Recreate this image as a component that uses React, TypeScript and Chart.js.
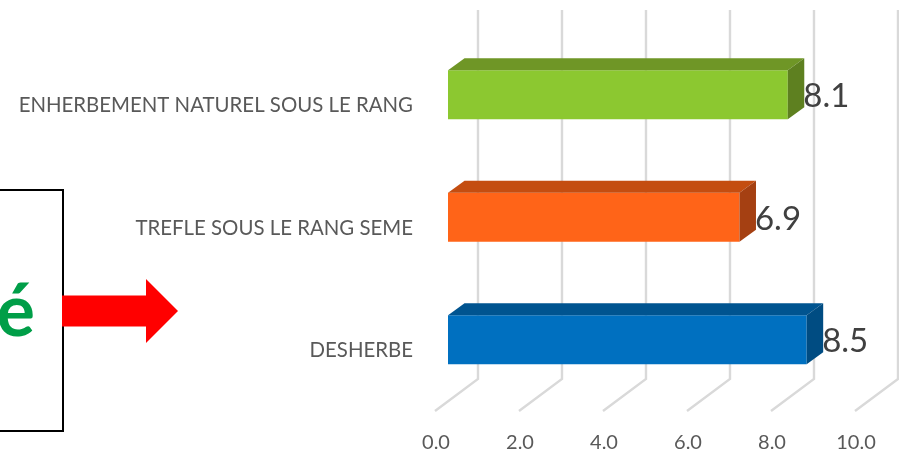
import React, { useEffect, useRef } from "react";
import { Chart, registerables } from "chart.js";

Chart.register(...registerables);

const categories = [
  "ENHERBEMENT NATUREL SOUS LE RANG",
  "TREFLE SOUS LE RANG SEME",
  "DESHERBE",
];
const values = [8.09, 6.94, 8.54];
const frontColors = ["#8CC830", "#FF6418", "#0070C0"];
const topColors = ["#6F9626", "#C44D10", "#005490"];
const sideColors = ["#5E8020", "#A54012", "#004C82"];

const FONT = "Lato, Carlito, 'Open Sans', sans-serif";
const DEPTH_X = 16.5;
const DEPTH_Y = 12;

const box3d = {
  id: "box3d",
  beforeDatasetsDraw(chart: any) {
    const { ctx, scales, chartArea } = chart;
    const x = scales.x;
    ctx.save();
    ctx.strokeStyle = "#D9D9D9";
    ctx.lineWidth = 2.4;
    ctx.lineJoin = "miter";
    x.ticks.forEach((t: any) => {
      const px = x.getPixelForValue(t.value);
      ctx.beginPath();
      ctx.moveTo(px + 30, 10);
      ctx.lineTo(px + 30, chartArea.bottom - 22);
      ctx.lineTo(px - 13, chartArea.bottom + 10);
      ctx.stroke();
    });
    ctx.restore();
  },
  afterDatasetsDraw(chart: any) {
    const { ctx } = chart;
    const meta = chart.getDatasetMeta(0);
    ctx.save();
    meta.data.forEach((bar: any, i: number) => {
      const { x, y, base, height } = bar.getProps(["x", "y", "base", "height"], true);
      const top = y - height / 2;
      const bottom = y + height / 2;
      ctx.fillStyle = topColors[i];
      ctx.beginPath();
      ctx.moveTo(base, top);
      ctx.lineTo(base + DEPTH_X, top - DEPTH_Y);
      ctx.lineTo(x + DEPTH_X, top - DEPTH_Y);
      ctx.lineTo(x, top);
      ctx.closePath();
      ctx.fill();
      ctx.fillStyle = sideColors[i];
      ctx.beginPath();
      ctx.moveTo(x, top);
      ctx.lineTo(x + DEPTH_X, top - DEPTH_Y);
      ctx.lineTo(x + DEPTH_X, bottom - DEPTH_Y);
      ctx.lineTo(x, bottom);
      ctx.closePath();
      ctx.fill();
      ctx.fillStyle = "#404040";
      ctx.font = `33px ${FONT}`;
      ctx.textAlign = "left";
      ctx.textBaseline = "middle";
      ctx.fillText(values[i].toFixed(1), x + DEPTH_X - 1, y + 2);
    });
    ctx.restore();
  },
};

export default function App() {
  const ref = useRef<HTMLCanvasElement | null>(null);
  useEffect(() => {
    const chart = new Chart(ref.current as HTMLCanvasElement, {
      type: "bar",
      data: {
        labels: categories,
        datasets: [
          {
            data: values,
            backgroundColor: frontColors,
            borderWidth: 0,
            categoryPercentage: 1,
            barPercentage: 0.4,
          },
        ],
      },
      options: {
        indexAxis: "y",
        responsive: false,
        animation: false,
        devicePixelRatio: 1,
        layout: { padding: { top: 33.6, right: 31, left: 0, bottom: 0 } },
        plugins: { legend: { display: false }, tooltip: { enabled: false }, title: { display: false } },
        scales: {
          x: {
            min: 0,
            max: 10,
            grid: { display: false },
            border: { display: false },
            afterFit(scale: any) {
              scale.height = 51;
              scale.paddingLeft = 0;
              scale.paddingRight = 0;
            },
            ticks: {
              stepSize: 2,
              autoSkip: false,
              maxRotation: 0,
              labelOffset: -12,
              padding: 22,
              color: "#595959",
              font: { family: FONT, size: 20 },
              callback: (v: any) => Number(v).toFixed(1),
            },
          },
          y: {
            grid: { display: false },
            border: { display: false },
            afterFit(scale: any) {
              scale.width = 448;
              scale.paddingTop = 0;
              scale.paddingBottom = 0;
            },
            ticks: {
              padding: 27,
              labelOffset: 11,
              autoSkip: false,
              color: "#595959",
              font: { family: FONT, size: 20.4 },
            },
          },
        },
      } as any,
      plugins: [box3d],
    });
    return () => chart.destroy();
  }, []);

  return (
    <div style={{ position: "fixed", left: 0, top: 0, width: 899, height: 452, overflow: "hidden", background: "#fff" }}>
      <canvas ref={ref} width={899} height={452} style={{ display: "block", width: 899, height: 452 }} />
      <div
        style={{
          position: "absolute",
          left: -10,
          top: 189,
          width: 70,
          height: 239,
          border: "2px solid #000",
          background: "#fff",
          boxSizing: "content-box",
        }}
      >
        <div
          style={{
            position: "absolute",
            right: 27,
            top: 72,
            fontFamily: FONT,
            fontWeight: 700,
            fontSize: 72,
            lineHeight: "90px",
            color: "#009E48",
          }}
        >
          é
        </div>
      </div>
      <div
        style={{
          position: "absolute",
          left: 62,
          top: 279,
          width: 116,
          height: 64,
          background: "#FF0000",
          clipPath: "polygon(0 16.5px, 84px 16.5px, 84px 0, 116px 32px, 84px 64px, 84px 47.5px, 0 47.5px)",
        }}
      />
    </div>
  );
}
